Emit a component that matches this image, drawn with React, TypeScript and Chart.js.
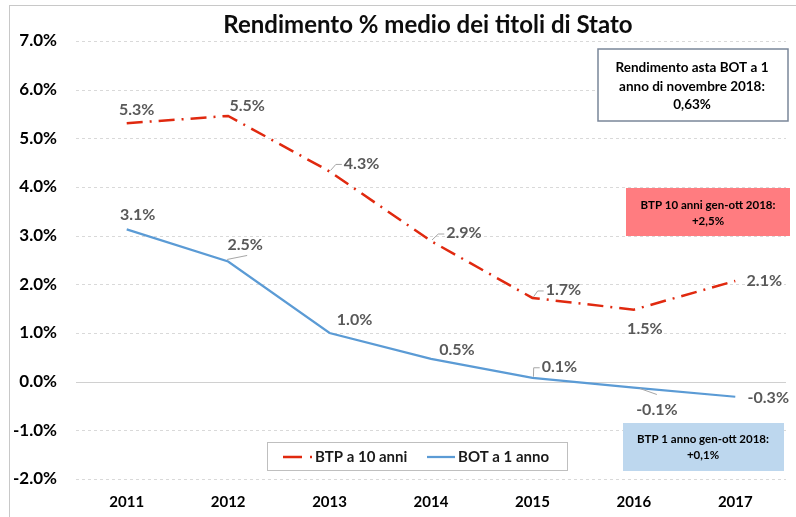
import React, { useEffect, useRef } from "react";
import { Chart, registerables } from "chart.js";

Chart.register(...registerables);

// ---- data ----
const years = ["2011", "2012", "2013", "2014", "2015", "2016", "2017"];
const btp10 = [5.31, 5.46, 4.32, 2.89, 1.72, 1.48, 2.07];
const bot1 = [3.13, 2.47, 1.0, 0.47, 0.08, -0.12, -0.31];
const seriesNames = ["BTP a 10 anni", "BOT a 1 anno"];
const titleText = "Rendimento % medio dei titoli di Stato";
const noteBot = ["Rendimento asta BOT a 1", "anno di novembre 2018:", "0,63%"];
const noteBtp10 = ["BTP 10 anni gen-ott 2018:", "+2,5%"];
const noteBtp1 = ["BTP 1 anno gen-ott 2018:", "+0,1%"];

// ---- label layout (offsets from point, px) ----
type Lab = { dx: number; dy: number; leader?: "elbow" | "up" | "down" };
const btpLabelPos: Lab[] = [
  { dx: 10, dy: -13 },
  { dx: 19, dy: -10 },
  { dx: 32, dy: -8, leader: "elbow" },
  { dx: 33, dy: -8, leader: "elbow" },
  { dx: 31, dy: -8, leader: "elbow" },
  { dx: 11, dy: 19 },
  { dx: 29, dy: 0 },
];
const botLabelPos: Lab[] = [
  { dx: 11, dy: -14 },
  { dx: 17, dy: -17, leader: "up" },
  { dx: 25, dy: -13 },
  { dx: 26, dy: -9 },
  { dx: 27, dy: -11, leader: "elbow" },
  { dx: 23, dy: 22, leader: "down" },
  { dx: 33, dy: 1 },
];

const FONT = "Lato, 'Open Sans', sans-serif";
const RED = "#e0290f";
const BLUE = "#5b9bd5";

const drawPlugin = {
  id: "custom",
  beforeDraw(chart: any) {
    const ctx = chart.ctx;
    ctx.save();
    ctx.fillStyle = "#ffffff";
    ctx.fillRect(0, 0, chart.width, chart.height);
    ctx.strokeStyle = "#c8c8c8";
    ctx.lineWidth = 1;
    ctx.strokeRect(9.5, 5.5, chart.width + 20, chart.height + 20);
    ctx.restore();
  },
  beforeDatasetsDraw(chart: any) {
    const ctx = chart.ctx;
    const y = chart.scales.y;
    const { left, right } = chart.chartArea;
    ctx.save();
    y.ticks.forEach((t: any) => {
      const py = Math.round(y.getPixelForValue(t.value)) + 0.5;
      ctx.beginPath();
      if (t.value === 0) {
        ctx.setLineDash([]);
        ctx.strokeStyle = "#d0d0d0";
      } else {
        ctx.setLineDash([3, 3]);
        ctx.strokeStyle = "#d9d9d9";
      }
      ctx.lineWidth = 1;
      ctx.moveTo(left, py);
      ctx.lineTo(right, py);
      ctx.stroke();
    });
    ctx.restore();
  },
  afterDatasetsDraw(chart: any) {
    const ctx = chart.ctx;
    ctx.save();
    // data labels
    const drawLabels = (dsIndex: number, values: number[], pos: Lab[]) => {
      const meta = chart.getDatasetMeta(dsIndex);
      ctx.font = `bold 16px ${FONT}`;
      ctx.textAlign = "center";
      ctx.textBaseline = "middle";
      meta.data.forEach((pt: any, i: number) => {
        const txt = values[i].toFixed(1) + "%";
        const p = pos[i];
        const cx = pt.x + p.dx;
        const cy = pt.y + p.dy;
        const w = ctx.measureText(txt).width;
        if (p.leader) {
          ctx.strokeStyle = "#a6a6a6";
          ctx.lineWidth = 1;
          ctx.beginPath();
          if (p.leader === "elbow") {
            const lx = cx - w / 2;
            ctx.moveTo(pt.x + 1, pt.y - 1);
            ctx.lineTo(lx - 8, cy + 1);
            ctx.lineTo(lx - 2, cy + 1);
          } else if (p.leader === "up") {
            ctx.moveTo(pt.x - 1, pt.y - 2);
            ctx.lineTo(cx + 2, cy + 11);
          } else {
            ctx.moveTo(pt.x + 6, pt.y + 1);
            ctx.lineTo(cx, cy - 15);
          }
          ctx.stroke();
        }
        ctx.fillStyle = "#595959";
        ctx.fillText(txt, cx, cy);
      });
    };
    drawLabels(0, btp10, btpLabelPos);
    drawLabels(1, bot1, botLabelPos);

    // title
    ctx.fillStyle = "#0d0d0d";
    ctx.font = `bold 24px ${FONT}`;
    ctx.textAlign = "center";
    ctx.textBaseline = "middle";
    ctx.fillText(titleText, 428, 25);

    // note boxes
    const box = (x: number, y: number, w: number, h: number, fill: string, stroke: string | null, lines: string[], size: number, cx: number, ys: number[]) => {
      ctx.fillStyle = fill;
      ctx.fillRect(x, y, w, h);
      if (stroke) {
        ctx.strokeStyle = stroke;
        ctx.lineWidth = 1.5;
        ctx.strokeRect(x, y, w, h);
      }
      ctx.fillStyle = "#000000";
      ctx.font = `bold ${size}px ${FONT}`;
      ctx.textAlign = "center";
      ctx.textBaseline = "middle";
      lines.forEach((l, i) => ctx.fillText(l, cx, ys[i]));
    };
    box(598, 49, 190, 72, "#ffffff", "#7a8699", noteBot, 13.5, 692, [68, 87, 105]);
    box(626, 188, 164, 48, "#ff7c80", null, noteBtp10, 11.5, 708, [205, 221]);
    box(623, 423, 161, 48, "#bdd7ee", null, noteBtp1, 11.5, 703, [439, 455]);

    // legend
    ctx.fillStyle = "#ffffff";
    ctx.fillRect(267, 442, 300, 28);
    ctx.strokeStyle = "#bfbfbf";
    ctx.lineWidth = 1;
    ctx.strokeRect(267.5, 442.5, 300, 28);
    const ly = 457;
    ctx.strokeStyle = RED;
    ctx.lineWidth = 2.5;
    ctx.setLineDash([]);
    ctx.beginPath();
    ctx.moveTo(283, ly);
    ctx.lineTo(302, ly);
    ctx.moveTo(310, ly);
    ctx.lineTo(312, ly);
    ctx.stroke();
    ctx.strokeStyle = BLUE;
    ctx.lineWidth = 2.25;
    ctx.beginPath();
    ctx.moveTo(427, ly);
    ctx.lineTo(455, ly);
    ctx.stroke();
    ctx.fillStyle = "#1a1a1a";
    ctx.font = `bold 15px ${FONT}`;
    ctx.textAlign = "left";
    ctx.textBaseline = "middle";
    ctx.fillText(seriesNames[0], 315, ly);
    ctx.fillText(seriesNames[1], 458, ly);
    ctx.restore();
  },
};

export default function App() {
  const ref = useRef<HTMLCanvasElement>(null);
  useEffect(() => {
    document.body.style.margin = "0";
    const chart = new Chart(ref.current!, {
      type: "line",
      data: {
        labels: years,
        datasets: [
          {
            label: seriesNames[0],
            data: btp10,
            borderColor: RED,
            borderWidth: 2.5,
            borderDash: [16, 7, 2, 7],
            pointRadius: 0,
            tension: 0,
            fill: false,
          },
          {
            label: seriesNames[1],
            data: bot1,
            borderColor: BLUE,
            borderWidth: 2.25,
            pointRadius: 0,
            tension: 0,
            fill: false,
          },
        ],
      },
      options: {
        animation: false,
        responsive: false,
        layout: { padding: { top: 41, right: 10, left: 0, bottom: 0 } },
        plugins: { legend: { display: false }, title: { display: false }, tooltip: { enabled: false } },
        scales: {
          x: {
            type: "category",
            offset: true,
            grid: { display: false, drawTicks: false, tickLength: 0 },
            border: { display: false },
            ticks: { color: "#000", font: { family: FONT, size: 15, weight: "bold" }, padding: 14, maxRotation: 0 },
            afterFit: (s: any) => { s.height = 38; },
          },
          y: {
            min: -2,
            max: 7,
            grid: { display: false, drawTicks: false, tickLength: 0 },
            border: { display: false },
            ticks: {
              stepSize: 1,
              color: "#000",
              font: { family: FONT, size: 17, weight: "bold" },
              padding: 19,
              callback: (v: any) => Number(v).toFixed(1) + "%",
            },
            afterFit: (s: any) => { s.width = 76; },
          },
        },
      },
      plugins: [drawPlugin],
    });
    return () => chart.destroy();
  }, []);
  return (
    <div style={{ width: 796, height: 517, position: "relative" }}>
      <canvas ref={ref} width={796} height={517} style={{ display: "block" }} />
    </div>
  );
}
